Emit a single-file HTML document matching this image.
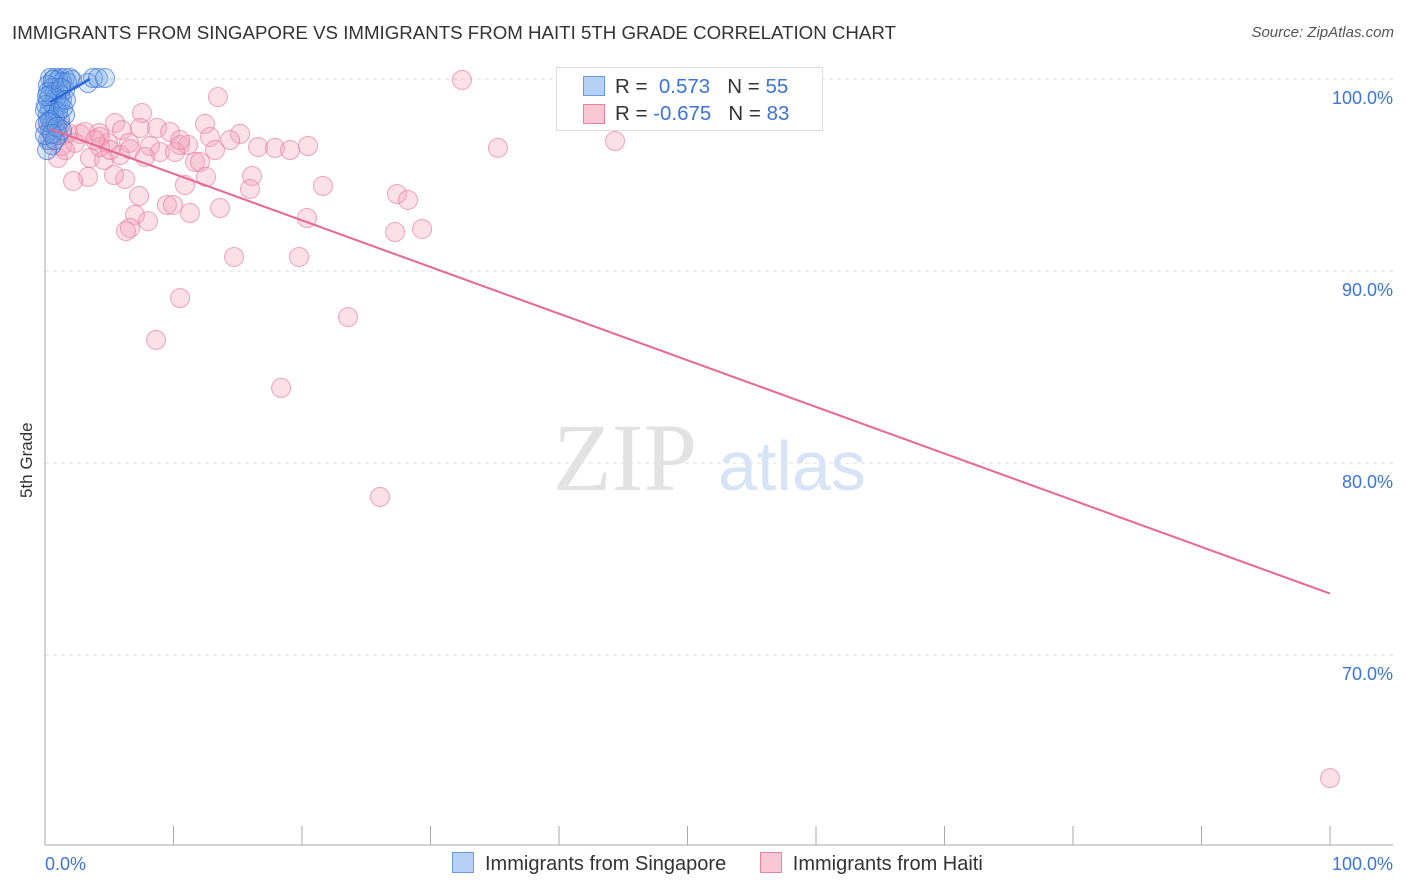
<!DOCTYPE html>
<html><head><meta charset="utf-8"><style>
body{margin:0;background:#fff;font-family:"Liberation Sans",sans-serif;}
#wrap{position:relative;width:1406px;height:892px;overflow:hidden;}
.t{position:absolute;white-space:nowrap;}
</style></head><body>
<div id="wrap">
<div class="t" style="left:12px;top:22px;font-size:18.7px;color:#333;">IMMIGRANTS FROM SINGAPORE VS IMMIGRANTS FROM HAITI 5TH GRADE CORRELATION CHART</div>
<div class="t" style="right:12px;top:24px;font-size:15px;color:#555;font-style:italic;">Source: ZipAtlas.com</div>
<div class="t" style="left:17px;top:498px;font-size:17px;color:#333;transform:rotate(-90deg);transform-origin:left top;">5th Grade</div>
<svg id="chart" width="1406" height="892" style="position:absolute;left:0;top:0"></svg>
<div style="position:absolute;left:556px;top:67px;width:265px;height:62px;border:1px solid #ddd;background:#fff;font-size:20.5px;">
<div style="position:absolute;left:26px;top:8px;width:20px;height:18px;background:#b6d1f5;border:1px solid #6a9be0;"></div>
<div class="t" style="left:58px;top:7px;color:#333;">R = <span style="color:#3b74d6">&nbsp;0.573</span>&nbsp;&nbsp;&nbsp;N = <span style="color:#3b74d6">55</span></div>
<div style="position:absolute;left:26px;top:36px;width:20px;height:18px;background:#f8c6d4;border:1px solid #e8829f;"></div>
<div class="t" style="left:58px;top:34px;color:#333;">R = <span style="color:#3b74d6">-0.675</span>&nbsp;&nbsp;&nbsp;N = <span style="color:#3b74d6">83</span></div>
</div>
<div style="position:absolute;left:452px;top:852px;font-size:20px;color:#333;">
<span style="display:inline-block;"><span style="display:inline-block;width:20px;height:19px;background:#b6d1f5;border:1px solid #6a9be0;vertical-align:-3px;margin-right:11px;"></span>Immigrants from Singapore</span>
<span style="display:inline-block;margin-left:28px;"><span style="display:inline-block;width:20px;height:19px;background:#f8c6d4;border:1px solid #e8829f;vertical-align:-3px;margin-right:11px;"></span>Immigrants from Haiti</span>
</div>
</div>
<script>
const yTicks=[100,90,80,70];
const yTickLabels=["100.0%","90.0%","80.0%","70.0%"];
const xTickLabels=["0.0%","100.0%"];
const pinkPx=[[462,80],[218,97],[142,113],[115,123],[157,128],[205,124],[122,130],[170,132],[240,134],[99,133],[80,134],[62,135],[210,137],[230,140],[129,143],[108,143],[150,146],[180,145],[188,145],[258,147],[275,148],[290,150],[308,146],[498,148],[615,141],[160,152],[175,152],[215,150],[145,157],[120,155],[90,158],[104,160],[195,162],[200,162],[58,158],[252,176],[206,177],[125,179],[88,177],[73,181],[114,175],[185,185],[323,186],[250,189],[139,196],[397,194],[408,200],[167,205],[173,205],[220,208],[135,215],[190,213],[307,218],[148,221],[130,228],[126,231],[395,232],[422,229],[234,257],[299,257],[180,298],[348,317],[156,340],[281,388],[380,497],[1330,778],[62,146],[75,143],[55,130],[52,125],[68,133],[100,147],[140,128],[180,140],[100,137],[130,149],[85,132],[48,128],[50,140],[60,125],[95,140],[110,150],[65,150]];
const bluePx=[[50,78],[55,78],[60,78],[65,78],[70,78],[88,83],[93,78],[98,78],[105,78],[58,80],[62,82],[48,85],[52,88],[55,92],[60,95],[65,90],[48,100],[52,103],[58,101],[62,100],[50,108],[55,110],[60,105],[65,115],[48,115],[52,120],[55,125],[50,130],[58,135],[48,140],[52,145],[47,150],[45,110],[45,125],[45,135],[60,120],[55,118],[62,130],[50,95],[56,98],[48,92],[53,80],[67,82],[72,80],[46,105],[50,120],[58,112],[63,108],[55,140],[48,122],[57,127],[52,134],[47,96],[61,88],[66,100]];
const toData=p=>[+((p[0]-45)/12.85).toFixed(2),+(100-(p[1]-79)/19.2).toFixed(2)];
const pinkX=pinkPx.map(p=>toData(p)[0]), pinkY=pinkPx.map(p=>toData(p)[1]);
const blueX=bluePx.map(p=>toData(p)[0]), blueY=bluePx.map(p=>toData(p)[1]);
const pinkTrend=[[0.4,97.4],[100,73.2]];
const blueTrend=[[0.4,98.8],[3.5,100]];
const X=v=>45+v*12.85, Y=v=>79+(100-v)*19.2;
const svg=document.getElementById('chart');const NS='http://www.w3.org/2000/svg';
function mk(tag,attrs,name){const e=document.createElementNS(NS,tag);for(const k in attrs)e.setAttribute(k,attrs[k]);


svg.appendChild(e);return e;}
yTicks.forEach((v,i)=>{mk('line',{x1:45,x2:1393,y1:Y(v),y2:Y(v),stroke:'#ddd','stroke-dasharray':'4,4'},'gridline');
const t=mk('text',{x:1393,y:Y(v)+25,'text-anchor':'end','font-size':18,fill:'#3b74d6','font-family':'Liberation Sans'},'y-tick-label');t.textContent=yTickLabels[i];});
let w=mk('text',{x:553,y:490,'font-size':96,fill:'#e2e2e2','font-family':'Liberation Serif'},'watermark-zip');w.textContent='ZIP';
w=mk('text',{x:718,y:490,'font-size':70,fill:'#d6e4f6','font-family':'Liberation Sans'},'watermark-atlas');w.textContent='atlas';
mk('line',{x1:45,x2:45,y1:70,y2:845,stroke:'#aaa'},'y-axis');
mk('line',{x1:45,x2:1393,y1:845,y2:845,stroke:'#aaa'},'x-axis');
for(let i=0;i<=10;i++)mk('line',{x1:X(i*10),x2:X(i*10),y1:826,y2:845,stroke:'#aaa'},'x-tick');
let t=mk('text',{x:45,y:870,'font-size':18,fill:'#3b74d6','font-family':'Liberation Sans'},'x-tick-label');t.textContent=xTickLabels[0];
t=mk('text',{x:1393,y:870,'text-anchor':'end','font-size':18,fill:'#3b74d6','font-family':'Liberation Sans'},'x-tick-label');t.textContent=xTickLabels[1];
pinkX.forEach((x,i)=>mk('circle',{cx:X(x),cy:Y(pinkY[i]),r:9.5,fill:'rgba(244,160,185,0.33)',stroke:'rgba(232,120,155,0.65)','stroke-width':1},'haiti-point'));
blueX.forEach((x,i)=>mk('circle',{cx:X(x),cy:Y(blueY[i]),r:9.5,fill:'rgba(110,160,230,0.28)',stroke:'rgba(50,110,210,0.65)','stroke-width':1},'singapore-point'));
mk('line',{x1:X(pinkTrend[0][0]),y1:Y(pinkTrend[0][1]),x2:X(pinkTrend[1][0]),y2:Y(pinkTrend[1][1]),stroke:'#e8668f','stroke-width':2},'haiti-trendline');
mk('line',{x1:X(blueTrend[0][0]),y1:Y(blueTrend[0][1]),x2:X(blueTrend[1][0]),y2:Y(blueTrend[1][1]),stroke:'#2a6ad6','stroke-width':2.5},'singapore-trendline');
</script>
</body></html>
